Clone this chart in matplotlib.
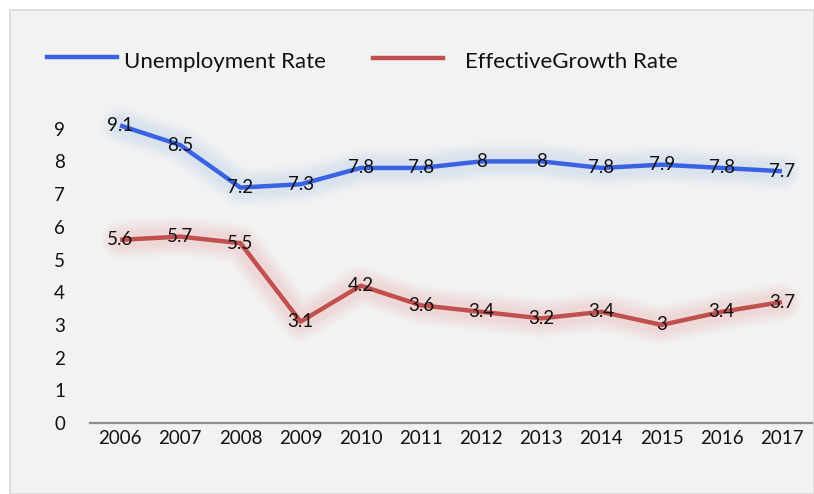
import matplotlib
matplotlib.use("Agg")
import matplotlib.pyplot as plt
from matplotlib.patches import Rectangle

years = ["2006", "2007", "2008", "2009", "2010", "2011", "2012", "2013", "2014", "2015", "2016", "2017"]
unemployment = [9.1, 8.5, 7.2, 7.3, 7.8, 7.8, 8, 8, 7.8, 7.9, 7.8, 7.7]
growth = [5.6, 5.7, 5.5, 3.1, 4.2, 3.6, 3.4, 3.2, 3.4, 3.0, 3.4, 3.7]
labels_u = ["9.1", "8.5", "7.2", "7.3", "7.8", "7.8", "8", "8", "7.8", "7.9", "7.8", "7.7"]
labels_g = ["5.6", "5.7", "5.5", "3.1", "4.2", "3.6", "3.4", "3.2", "3.4", "3", "3.4", "3.7"]

plt.rcParams['font.family'] = ['Lato', 'DejaVu Sans']

W, H = 814, 494
fig = plt.figure(figsize=(W/100, H/100), dpi=100)
fig.patch.set_facecolor('white')
bg = Rectangle((10/W, 0), 1 - 10/W, 1 - 10/H, transform=fig.transFigure,
               facecolor='#f2f2f2', edgecolor='#d9d9d9', linewidth=1.2, zorder=-10)
fig.add_artist(bg)

ax = fig.add_axes([90/W, (H-423)/H, (812-90)/W, 327/H])
ax.set_facecolor('none')
ax.set_zorder(1)
x = list(range(len(years)))

blue = '#3a63e3'
red = '#c0504d'
FS = 13.5
# soft glow
for lw, a in [(28, 0.06), (24, 0.07), (20, 0.08), (16, 0.09), (12, 0.10)]:
    ax.plot(x, unemployment, color='#b3c8ec', linewidth=lw, alpha=a, solid_capstyle='round', solid_joinstyle='round')
    ax.plot(x, growth, color='#eeaaaa', linewidth=lw, alpha=a, solid_capstyle='round', solid_joinstyle='round')
l1, = ax.plot(x, unemployment, color=blue, linewidth=3.2, solid_capstyle='butt', label='Unemployment Rate')
l2, = ax.plot(x, growth, color=red, linewidth=3.2, solid_capstyle='butt', label='EffectiveGrowth Rate')

for xi, v, t in zip(x, unemployment, labels_u):
    ax.text(xi, v, t, ha='center', va='center', fontsize=FS, color='#111111')
for xi, v, t in zip(x, growth, labels_g):
    ax.text(xi, v, t, ha='center', va='center', fontsize=FS, color='#111111')

ax.set_xlim(-0.5, 11.5)
ax.set_ylim(0, 10)
ax.set_yticks(range(0, 10))
ax.set_xticks(x)
ax.set_xticklabels(years)
ax.tick_params(axis='both', length=0, labelsize=FS, colors='#111111')
ax.tick_params(axis='y', pad=18)
ax.tick_params(axis='x', pad=5)
for s in ['top', 'right', 'left']:
    ax.spines[s].set_visible(False)
ax.spines['bottom'].set_color('#8c8c8c')
ax.spines['bottom'].set_linewidth(1.6)

# legend
fig.add_artist(plt.Line2D([47/W, 117/W], [(H-57)/H]*2, color=blue, linewidth=3.2, transform=fig.transFigure))
fig.text(124/W, (H-62)/H, 'Unemployment Rate', fontsize=16, va='center', ha='left', color='#111111')
fig.add_artist(plt.Line2D([373/W, 443/W], [(H-58)/H]*2, color=red, linewidth=3.2, transform=fig.transFigure))
fig.text(465/W, (H-62)/H, 'EffectiveGrowth Rate', fontsize=16, va='center', ha='left', color='#111111')

fig.savefig('out.png', dpi=100)
